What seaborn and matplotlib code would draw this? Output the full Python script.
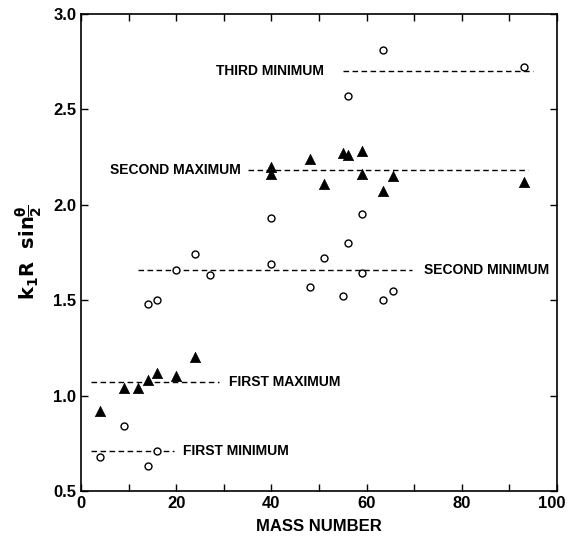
import seaborn as sns
import pandas as pd
from matplotlib import pyplot as plt
from matplotlib.ticker import MultipleLocator, FuncFormatter

# maxima (filled triangles)
max_mass = [4, 9, 12, 14, 16, 20, 24, 40, 40, 48, 51, 55, 56, 59, 59, 63.5, 65.5, 93]
max_val = [0.92, 1.04, 1.04, 1.08, 1.12, 1.10, 1.20, 2.20, 2.16, 2.24, 2.11, 2.27,
           2.26, 2.28, 2.16, 2.07, 2.15, 2.12]

# minima (open circles)
min_mass = [4, 9, 14, 16, 14, 16, 20, 24, 27, 40, 40, 48, 51, 55, 56, 56, 59, 59,
            63.5, 65.5, 63.5, 93]
min_val = [0.68, 0.84, 0.63, 0.71, 1.48, 1.50, 1.66, 1.74, 1.63, 1.93, 1.69, 1.57,
           1.72, 1.52, 1.80, 2.57, 1.95, 1.64, 1.50, 1.55, 2.81, 2.72]

# average levels
level_names = ["FIRST MINIMUM", "FIRST MAXIMUM", "SECOND MINIMUM", "SECOND MAXIMUM", "THIRD MINIMUM"]
level_val = [0.71, 1.07, 1.66, 2.18, 2.70]
level_start = [2, 2, 12, 35, 55]
level_end = [19.5, 29, 69.5, 94, 95]

plt.rcParams['font.family'] = ['Liberation Sans', 'DejaVu Sans']
plt.rcParams['font.weight'] = 'bold'

fig = plt.figure(figsize=(5.69, 5.37), dpi=100)
ax = fig.add_axes([0.1424, 0.0857, 0.8366, 0.8883])

df_max = pd.DataFrame({"mass": max_mass, "val": max_val})
df_min = pd.DataFrame({"mass": min_mass, "val": min_val})

sns.scatterplot(data=df_max, x="mass", y="val", marker="^", s=55, color="black",
                edgecolor="black", linewidth=0.5, ax=ax, zorder=3)
sns.scatterplot(data=df_min, x="mass", y="val", marker="o", s=25, facecolor="white",
                edgecolor="black", linewidth=1.0, ax=ax, zorder=3)

ax.hlines(level_val, level_start, level_end, colors="black", linestyles=(0, (4, 2.5)),
          linewidth=1.0, zorder=2)

# labels next to lines
ax.text(level_end[0] + 2, level_val[0], level_names[0], ha="left", va="center",
        fontsize=10, fontweight="bold")
ax.text(level_end[1] + 2, level_val[1], level_names[1], ha="left", va="center",
        fontsize=10, fontweight="bold")
ax.text(level_end[2] + 2.5, level_val[2], level_names[2], ha="left", va="center",
        fontsize=10, fontweight="bold")
ax.text(level_start[3] - 1.5, level_val[3], level_names[3], ha="right", va="center",
        fontsize=10, fontweight="bold")
ax.text(level_start[4] - 4, level_val[4], level_names[4], ha="right", va="center",
        fontsize=10, fontweight="bold")

ax.set_xlim(0, 100)
ax.set_ylim(0.5, 3.0)
ax.xaxis.set_major_locator(MultipleLocator(20))
ax.xaxis.set_minor_locator(MultipleLocator(10))
ax.yaxis.set_major_locator(MultipleLocator(0.5))
# the "100" label is drawn separately so it stays inside the figure
ax.xaxis.set_major_formatter(FuncFormatter(lambda v, p: "" if v >= 100 else f"{v:.0f}"))
ax.tick_params(which="both", direction="in", top=True, right=True, length=5, width=1,
               labelsize=12)
for lab in ax.get_xticklabels() + ax.get_yticklabels():
    lab.set_fontweight("bold")
for sp in ax.spines.values():
    sp.set_linewidth(1.2)

ax.annotate("100", xy=(100, 0), xycoords=("data", "axes fraction"), xytext=(6, -3.5),
            textcoords="offset points", ha="right", va="top", fontsize=12, fontweight="bold")

ax.set_xlabel("MASS NUMBER", fontsize=12, fontweight="bold", labelpad=6)
ax.set_ylabel(r"$\mathbf{k_1R\ \ sin\frac{\theta}{2}}$", fontsize=14, labelpad=6)

fig.savefig("out.png", dpi=100)
